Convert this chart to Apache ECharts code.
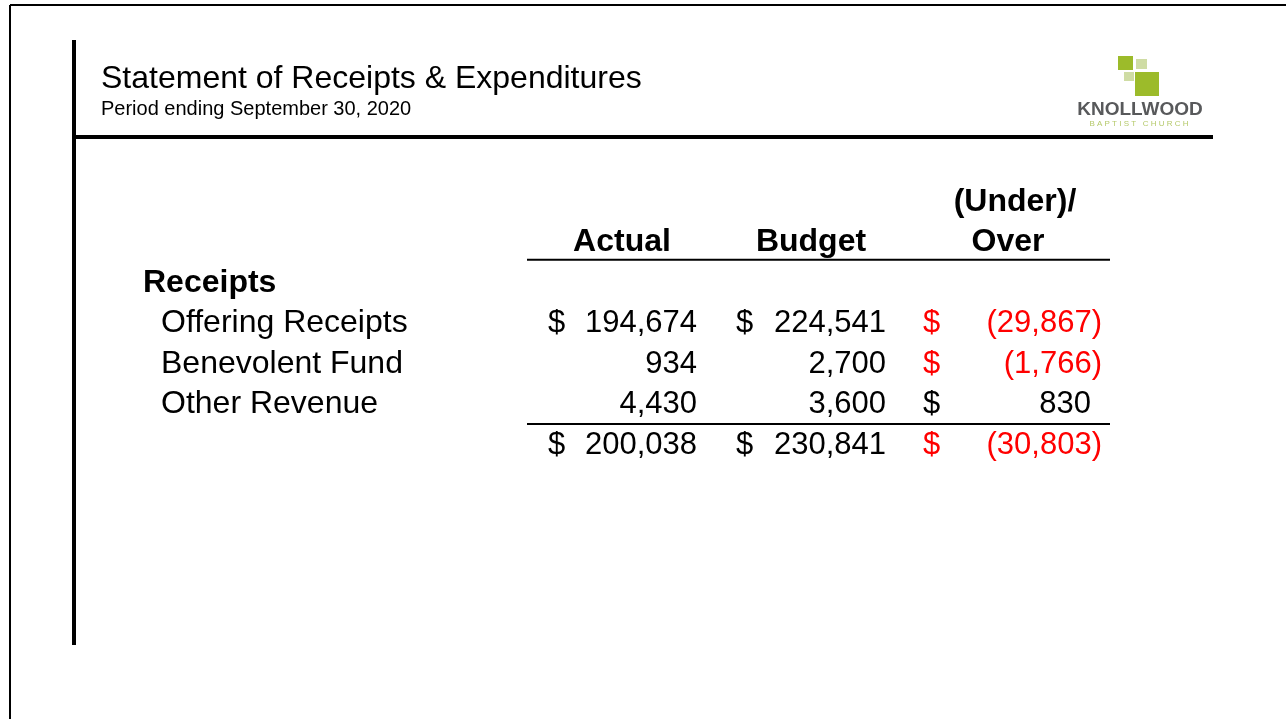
<!DOCTYPE html>
<html>
<head>
<meta charset="utf-8">
<script src="https://cdn.jsdelivr.net/npm/echarts@6/dist/echarts.min.js"></script>
<style>
  html, body { margin: 0; padding: 0; background: #fff; }
  #chart { width: 1286px; height: 719px; }
</style>
</head>
<body>
<div id="chart"></div>
<script>
// ---- data ----
const rowKeys = ['hdrTop', 'hdr', 'Receipts', 'Offering Receipts', 'Benevolent Fund', 'Other Revenue', 'Total'];
const sectionLabel = 'Receipts';
const itemNames = ['Offering Receipts', 'Benevolent Fund', 'Other Revenue'];
const actual = [194674, 934, 4430];
const budget = [224541, 2700, 3600];
const variance = [-29867, -1766, 830];
const totalActual = 200038;
const totalBudget = 230841;
const totalVariance = -30803;
const headerTop = ['', '', '(Under)/'];
const headerBottom = ['Actual', 'Budget', 'Over'];
const title = 'Statement of Receipts & Expenditures';
const subtitle = 'Period ending September 30, 2020';

// ---- layout / style ----
const FONT = '"Liberation Sans", Arial, sans-serif';
const RED = '#ff0000';
const cols = [
  { dollar: 548, right: 697, center: 622 },
  { dollar: 736, right: 886, center: 811 },
  { dollar: 923, right: 1102, center: 1008, centerTop: 1015 }
];
const PAREN_W = 11;

function fmtNum(n) {
  const s = Math.abs(n).toLocaleString('en-US');
  return n < 0 ? '(' + s + ')' : s;
}

// rows of the table body, built from the arrays
const tableRows = [];
itemNames.forEach((name, i) => {
  tableRows.push({ key: name, label: name, vals: [actual[i], budget[i], variance[i]], dollars: i === 0 ? [true, true, true] : [false, false, true] });
});
tableRows.push({ key: 'Total', label: '', vals: [totalActual, totalBudget, totalVariance], dollars: [true, true, true] });

const chart = echarts.init(document.getElementById('chart'), null, { renderer: 'canvas' });

function txt(x, y, text, opt) {
  return {
    type: 'text',
    x: x, y: y,
    style: Object.assign({
      text: text,
      fill: '#000',
      font: 'normal 31px ' + FONT,
      textAlign: 'left',
      textVerticalAlign: 'middle'
    }, opt || {})
  };
}

function renderItem(params, api) {
  const idx = api.value(0);
  const y = api.coord([0, idx])[1];
  const band = api.size([0, 1])[1];
  const key = rowKeys[idx];
  const children = [];
  if (key === 'hdrTop') {
    headerTop.forEach((h, c) => {
      if (h) children.push(txt(cols[c].centerTop || cols[c].center, y, h, { font: 'bold 32px ' + FONT, textAlign: 'center' }));
    });
  } else if (key === 'hdr') {
    headerBottom.forEach((h, c) => {
      children.push(txt(cols[c].center, y, h, { font: 'bold 32px ' + FONT, textAlign: 'center' }));
    });
    children.push({ type: 'line', shape: { x1: 527, y1: y + band / 2 - 3, x2: 1110, y2: y + band / 2 - 3 }, style: { stroke: '#000', lineWidth: 2 } });
  } else if (key === sectionLabel) {
    children.push(txt(143, y, sectionLabel, { font: 'bold 32px ' + FONT }));
  } else {
    const row = tableRows.find(r => r.key === key);
    if (row) {
      if (row.label) children.push(txt(161, y, row.label, { font: 'normal 32px ' + FONT }));
      row.vals.forEach((v, c) => {
        const color = (c === 2 && v < 0) ? RED : '#000';
        if (row.dollars[c]) children.push(txt(cols[c].dollar, y, '$', { fill: color }));
        const rx = v < 0 ? cols[c].right : cols[c].right - PAREN_W;
        const r = c === 2 ? rx : cols[c].right;
        children.push(txt(r, y, fmtNum(v), { fill: color, textAlign: 'right' }));
      });
      if (key === itemNames[itemNames.length - 1]) {
        children.push({ type: 'line', shape: { x1: 527, y1: y + band / 2 - 1, x2: 1110, y2: y + band / 2 - 1 }, style: { stroke: '#000', lineWidth: 2 } });
      }
    }
  }
  return { type: 'group', children: children };
}

const option = {
  backgroundColor: '#fff',
  animation: false,
  grid: { left: 0, right: 0, top: 181.5, height: 284, containLabel: false },
  xAxis: { type: 'value', min: 0, max: 1286, show: false },
  yAxis: { type: 'category', data: rowKeys, inverse: true, show: false },
  series: [{
    type: 'custom',
    renderItem: renderItem,
    data: rowKeys.map((k, i) => [i]),
    encode: { y: 0 },
    silent: true
  }],
  graphic: [
    // outer frame
    { type: 'line', shape: { x1: 10, y1: 5, x2: 1286, y2: 5 }, style: { stroke: '#000', lineWidth: 2 } },
    { type: 'line', shape: { x1: 10, y1: 5, x2: 10, y2: 719 }, style: { stroke: '#000', lineWidth: 2 } },
    // slide rules
    { type: 'rect', shape: { x: 72, y: 40, width: 4, height: 605 }, style: { fill: '#000' } },
    { type: 'rect', shape: { x: 76, y: 135, width: 1137, height: 4 }, style: { fill: '#000' } },
    // titles
    { type: 'text', x: 101, y: 79, style: { text: title, font: 'normal 32px ' + FONT, fill: '#000', textVerticalAlign: 'middle' } },
    { type: 'text', x: 101, y: 109, style: { text: subtitle, font: 'normal 20px ' + FONT, fill: '#000', textVerticalAlign: 'middle' } },
    // logo
    { type: 'rect', shape: { x: 1118, y: 56, width: 15, height: 14 }, style: { fill: '#9cbb2a' } },
    { type: 'rect', shape: { x: 1136, y: 59, width: 11, height: 10 }, style: { fill: '#cfdca4' } },
    { type: 'rect', shape: { x: 1124, y: 72, width: 10, height: 9 }, style: { fill: '#cfdca4' } },
    { type: 'rect', shape: { x: 1135, y: 72, width: 24, height: 24 }, style: { fill: '#9cbb2a' } },
    { type: 'text', x: 1140, y: 110, style: { text: 'KNOLLWOOD', font: 'bold 19px ' + FONT, fill: '#58595b', textAlign: 'center', textVerticalAlign: 'middle' } },
    { type: 'text', x: 1139, y: 124, style: { text: 'B A P T I S T   C H U R C H', font: 'normal 8px ' + FONT, fill: '#b5c96a', textAlign: 'center', textVerticalAlign: 'middle' } }
  ]
};
chart.setOption(option);
</script>
</body>
</html>
